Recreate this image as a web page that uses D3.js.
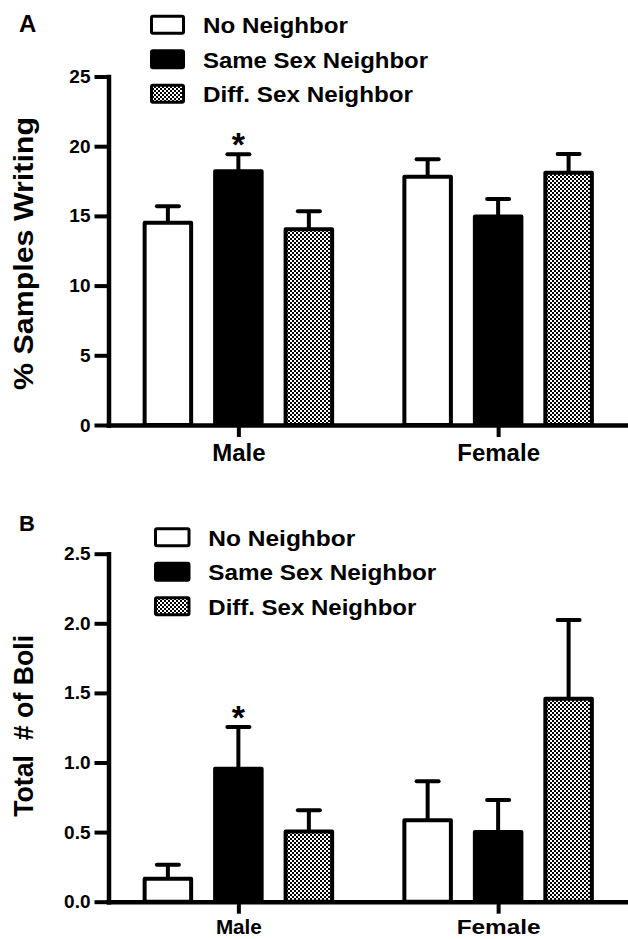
<!DOCTYPE html>
<html>
<head>
<meta charset="utf-8">
<script src="https://cdn.jsdelivr.net/npm/d3@7"></script>
<style>
  html, body { margin: 0; padding: 0; background: #fff; }
  svg { display: block; font-family: "Liberation Sans", Arial, Helvetica, sans-serif; font-weight: bold; }
</style>
</head>
<body>
<script>
// ---------------- DATA ----------------
const groups = ["Male", "Female"];
const series = ["No Neighbor", "Same Sex Neighbor", "Diff. Sex Neighbor"];

// Panel A: % Samples Writing (mean, SEM)
const writingMeanMale   = [14.5, 18.2, 14.05];
const writingMeanFemale = [17.8, 14.95, 18.1];
const writingSemMale    = [1.2, 1.23, 1.28];
const writingSemFemale  = [1.26, 1.27, 1.34];
const writingTicks = [0, 5, 10, 15, 20, 25];
const writingSig = [["Male", "Same Sex Neighbor"]];

// Panel B: Total # of Boli (mean, SEM)
const boliMeanMale   = [0.165, 0.955, 0.505];
const boliMeanFemale = [0.585, 0.5, 1.458];
const boliSemMale    = [0.10, 0.30, 0.152];
const boliSemFemale  = [0.28, 0.23, 0.565];
const boliTicks = [0, 0.5, 1.0, 1.5, 2.0, 2.5];
const boliSig = [["Male", "Same Sex Neighbor"]];

// ---------------- LAYOUT ----------------
const W = 628, H = 939;
const FONT = "'Liberation Sans', Arial, sans-serif";
const svg = d3.select("body").append("svg").attr("width", W).attr("height", H);

const defs = svg.append("defs");
const pat = defs.append("pattern").attr("id", "checker")
  .attr("patternUnits", "userSpaceOnUse").attr("width", 4).attr("height", 4);
pat.append("rect").attr("width", 4).attr("height", 4).attr("fill", "#fff");
pat.append("rect").attr("x", 0).attr("y", 0).attr("width", 2).attr("height", 2).attr("fill", "#000");
pat.append("rect").attr("x", 2).attr("y", 2).attr("width", 2).attr("height", 2).attr("fill", "#000");

const fills = ["#ffffff", "#000000", "url(#checker)"];

function rows(meanM, meanF, semM, semF) {
  const out = [];
  groups.forEach((g, gi) => {
    const means = gi === 0 ? meanM : meanF;
    const sems = gi === 0 ? semM : semF;
    series.forEach((s, si) => out.push({ group: g, series: s, si, mean: means[si], sem: sems[si] }));
  });
  return out;
}

function drawPanel(p) {
  const g = svg.append("g").attr("font-family", FONT).attr("font-weight", "bold");
  const y = d3.scaleLinear().domain([0, p.yMax]).range([p.y0, p.yTop]);
  const x0 = d3.scalePoint().domain(groups).range([108.5, 628]).padding(0.5);
  const x1 = d3.scaleBand().domain(series).range([-93.75, 93.75]).paddingInner(0.34);

  // Y axis
  const ya = g.append("g").attr("transform", "translate(108.5,0)")
    .call(d3.axisLeft(y).tickValues(p.ticks).tickFormat(p.fmt).tickSize(12).tickPadding(6).tickSizeOuter(0));
  ya.select(".domain").attr("stroke-width", 4.5).attr("stroke-linecap", "square");
  ya.selectAll(".tick line").attr("stroke-width", 4).attr("stroke-linecap", "square");
  ya.selectAll(".tick text").attr("font-size", 19).attr("font-weight", "bold")
    .attr("font-family", FONT).attr("fill", "#000");

  // X axis
  const xa = g.append("g").attr("transform", `translate(0,${p.y0})`)
    .call(d3.axisBottom(x0).tickSize(12).tickPadding(p.xPad).tickSizeOuter(0));
  xa.select(".domain").attr("stroke-width", 4.5).attr("stroke-linecap", "square");
  xa.selectAll(".tick line").attr("stroke-width", 4);
  xa.selectAll(".tick text").attr("font-size", p.xFont).attr("font-weight", "bold")
    .attr("font-family", FONT).attr("fill", "#000")
    .each(function(d, i) { if (p.xLens) d3.select(this).attr("textLength", p.xLens[i]).attr("lengthAdjust", "spacingAndGlyphs"); });

  const data = rows(p.meanM, p.meanF, p.semM, p.semF);
  const cx = d => x0(d.group) + x1(d.series) + x1.bandwidth() / 2;

  // error bars
  const eb = g.append("g").attr("stroke", "#000").attr("stroke-width", 4);
  eb.selectAll("line.v").data(data).join("line").attr("class", "v")
    .attr("x1", cx).attr("x2", cx)
    .attr("y1", d => y(d.mean)).attr("y2", d => y(d.mean + d.sem));
  eb.selectAll("line.c").data(data).join("line").attr("class", "c")
    .attr("stroke-linecap", "round")
    .attr("x1", d => cx(d) - 11).attr("x2", d => cx(d) + 11)
    .attr("y1", d => y(d.mean + d.sem)).attr("y2", d => y(d.mean + d.sem));

  // bars
  g.append("g").selectAll("rect").data(data).join("rect")
    .attr("x", d => x0(d.group) + x1(d.series))
    .attr("width", x1.bandwidth())
    .attr("y", d => y(d.mean))
    .attr("height", d => y(0) - y(d.mean))
    .attr("fill", d => fills[d.si])
    .attr("stroke", "#000").attr("stroke-width", 4).attr("stroke-linejoin", "round");

  // significance asterisks
  const sigData = data.filter(d => p.sig.some(s => s[0] === d.group && s[1] === d.series));
  g.append("g").selectAll("text").data(sigData).join("text")
    .attr("x", cx).attr("y", d => y(d.mean + d.sem) + 2)
    .attr("text-anchor", "middle").attr("font-size", 34).text("*");

  // Y label
  g.append("text")
    .attr("transform", `translate(${p.ylx},${p.yly}) rotate(-90)`)
    .attr("text-anchor", "middle").attr("font-size", 27)
    .attr("textLength", p.ylLen).attr("lengthAdjust", "spacingAndGlyphs")
    .style("white-space", "pre")
    .text(p.ylabel);

  // panel letter
  g.append("text").attr("x", 19).attr("y", p.letterY).attr("font-size", p.letterSize).text(p.letter);

  // legend
  const lg = g.append("g");
  series.forEach((s, i) => {
    const cy = p.leg.y0 + i * p.leg.dy;
    lg.append("rect").attr("x", p.leg.x).attr("y", cy - 8.5)
      .attr("width", p.leg.w).attr("height", 17).attr("rx", 1.5)
      .attr("fill", fills[i]).attr("stroke", "#000").attr("stroke-width", 3);
    lg.append("text").attr("x", p.leg.tx).attr("y", cy + 8.5)
      .attr("font-size", 22)
      .attr("textLength", p.leg.lens[i]).attr("lengthAdjust", "spacingAndGlyphs")
      .text(s);
  });
}

drawPanel({
  yMax: 25, y0: 425, yTop: 76.5, ticks: writingTicks, fmt: d3.format("d"),
  meanM: writingMeanMale, meanF: writingMeanFemale, semM: writingSemMale, semF: writingSemFemale,
  sig: writingSig, xFont: 24, xPad: 7, xLens: null,
  ylabel: "% Samples Writing", ylx: 32.5, yly: 253.5, ylLen: 273,
  letter: "A", letterY: 31.7, letterSize: 24,
  leg: { x: 151.5, w: 32, y0: 24.7, dy: 34.5, tx: 203, lens: [145, 225, 210] }
});

drawPanel({
  yMax: 2.5, y0: 901.7, yTop: 553.7, ticks: boliTicks, fmt: d3.format(".1f"),
  meanM: boliMeanMale, meanF: boliMeanFemale, semM: boliSemMale, semF: boliSemFemale,
  sig: boliSig, xFont: 21, xPad: 5, xLens: [46, 84],
  ylabel: "Total  # of Boli", ylx: 33.3, yly: 725.8, ylLen: 182,
  letter: "B", letterY: 530.7, letterSize: 22,
  leg: { x: 155.5, w: 33.5, y0: 537.3, dy: 34.5, tx: 208.3, lens: [147, 228, 208] }
});
</script>
</body>
</html>
